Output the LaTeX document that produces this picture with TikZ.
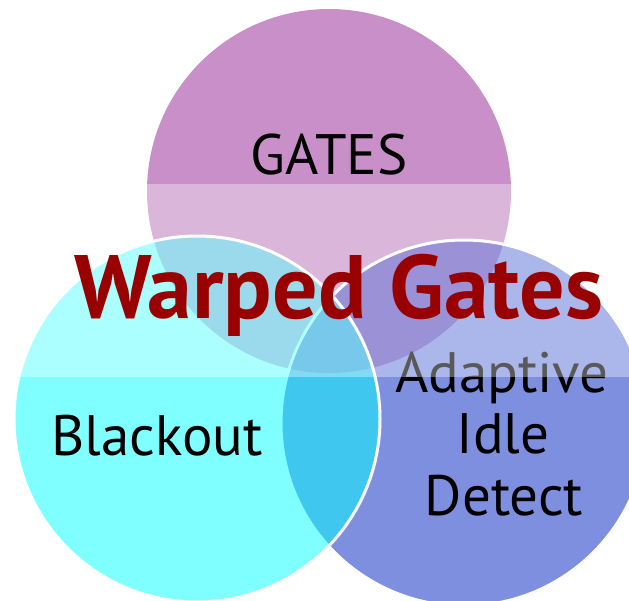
\documentclass[tikz,border=0pt]{standalone}
\usepackage{fontspec}
\setmainfont{PT Sans}
\definecolor{gatesfill}{RGB}{201,143,200}
\definecolor{idlefill}{RGB}{0,32,192}
\definecolor{blackoutfill}{RGB}{0,255,255}
\definecolor{titlered}{RGB}{153,0,0}
\tikzset{
  setdisc/.style={circle, inner sep=0pt, outer sep=0pt, minimum size=#1},
  ringed/.style={draw=white, line width=3pt, fill opacity=0.5},
  setlabel/.style={font=\fontsize{57}{62}\selectfont, text=black, anchor=base, inner sep=0pt},
}
\begin{document}
\begin{tikzpicture}[x=1pt,y=-1pt]
\useasboundingbox (0,0) rectangle (629,600);
% the three sets
\node[setdisc=364pt, fill=gatesfill] (gates) at (329,191) {};
\node[setdisc=366pt, ringed, fill=idlefill] (idle) at (464,423) {};
\node[setdisc=366pt, ringed, fill=blackoutfill] (blackout) at (197,419) {};
% set names
\node[setlabel] (gatesname) at (329,174) {GATES};
\node[setlabel] (blackoutname) at (157,455) {Blackout};
\node[setlabel] (idlename1) at (502,392) {Adaptive};
\node[setlabel] (idlename2) at (503,453) {Idle};
\node[setlabel] (idlename3) at (504,515) {Detect};
% glossy band across the middle
\fill[white, opacity=0.35] (0,184) rectangle (629,377);
% title
\node[font=\bfseries\fontsize{90}{92}\selectfont, text=titlered, anchor=base, inner sep=0pt] (title) at (339,318) {Warped Gates};
\end{tikzpicture}
\end{document}
